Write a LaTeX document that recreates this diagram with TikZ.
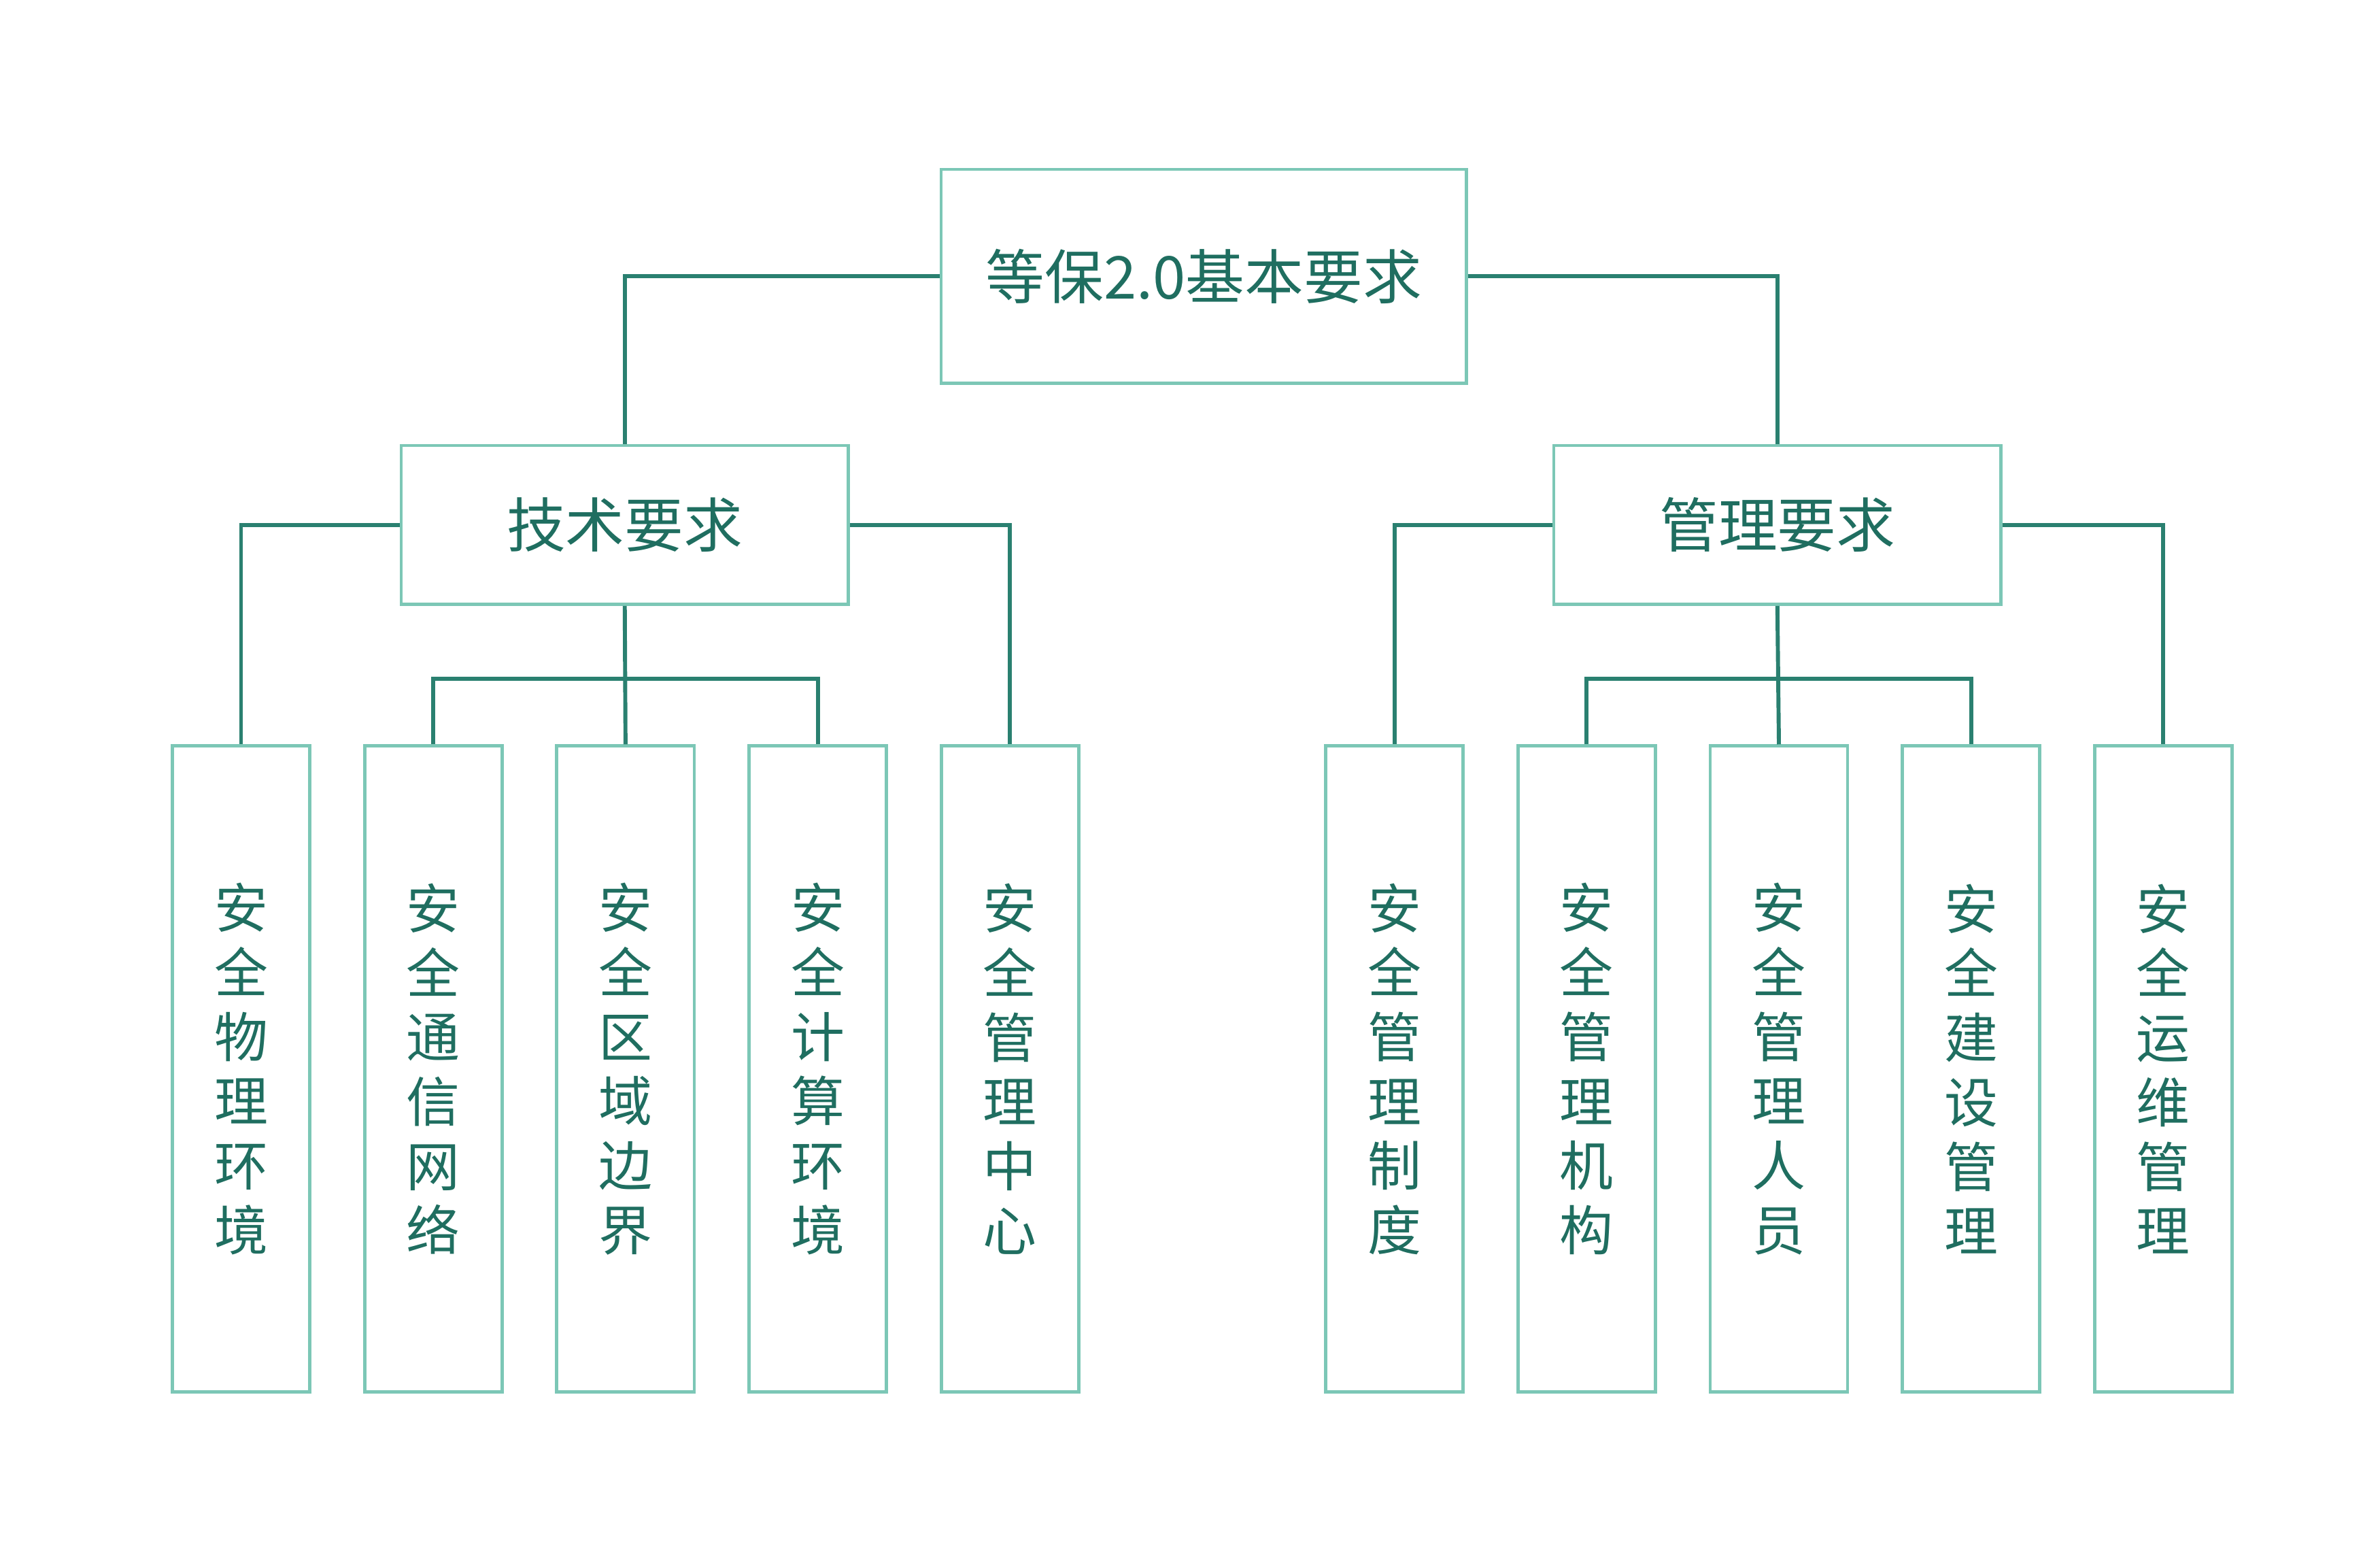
\documentclass[tikz,border=0pt]{standalone}
\usepackage{fontspec}
\setmainfont{Noto Sans CJK SC}
\usepackage{tikz}
\usetikzlibrary{positioning}
\definecolor{boxline}{HTML}{7CC7B6}
\definecolor{linkline}{HTML}{2A8070}
\definecolor{txt}{HTML}{1F6E60}

\begin{document}
\begin{tikzpicture}[
    x=0.01cm, y=0.01cm,
    box/.style={draw=boxline, line width=0.6pt, inner sep=0pt, text=txt},
    rootbox/.style={box, minimum width=3.44cm, minimum height=1.40cm, font=\fontsize{11pt}{13pt}\selectfont},
    midbox/.style={box, minimum width=2.93cm, minimum height=1.04cm, font=\fontsize{11pt}{13pt}\selectfont},
    leafbox/.style={box, minimum width=0.90cm, minimum height=4.23cm, align=center, font=\fontsize{10pt}{12pt}\selectfont},
    link/.style={draw=linkline, line width=0.75pt}
    ]
\useasboundingbox (0,0) rectangle (1560,1014);
\node[rootbox] (root) at (789,833) {等保2.0基本要求};
\node[midbox] (tech) at (409.5,670) {技术要求};
\node[midbox] (mgmt) at (1165,670) {管理要求};
% leaves
\foreach \x/\name/\txt in {158/t1/安\\全\\物\\理\\环\\境, 284/t2/安\\全\\通\\信\\网\\络,
    410/t3/安\\全\\区\\域\\边\\界, 536/t4/安\\全\\计\\算\\环\\境, 662/t5/安\\全\\管\\理\\中\\心,
    914/m1/安\\全\\管\\理\\制\\度, 1040/m2/安\\全\\管\\理\\机\\构, 1166/m3/安\\全\\管\\理\\人\\员,
    1292/m4/安\\全\\建\\设\\管\\理, 1418/m5/安\\全\\运\\维\\管\\理}
  \node[leafbox] (\name) at (\x,313.5) {\txt};

\draw[link] (root.west) -| (tech.north);
\draw[link] (root.east) -| (mgmt.north);
\draw[link] (tech.west) -| (t1.north);
\draw[link] (tech.east) -| (t5.north);
\draw[link] (mgmt.west) -| (m1.north);
\draw[link] (mgmt.east) -| (m5.north);
\draw[link] (tech.south) -- (t3.north);
\draw[link] (mgmt.south) -- (m3.north);
\draw[link] (t2.north) |- (410,569) -| (t4.north);
\draw[link] (m2.north) |- (1166,569) -| (m4.north);
\end{tikzpicture}
\end{document}
